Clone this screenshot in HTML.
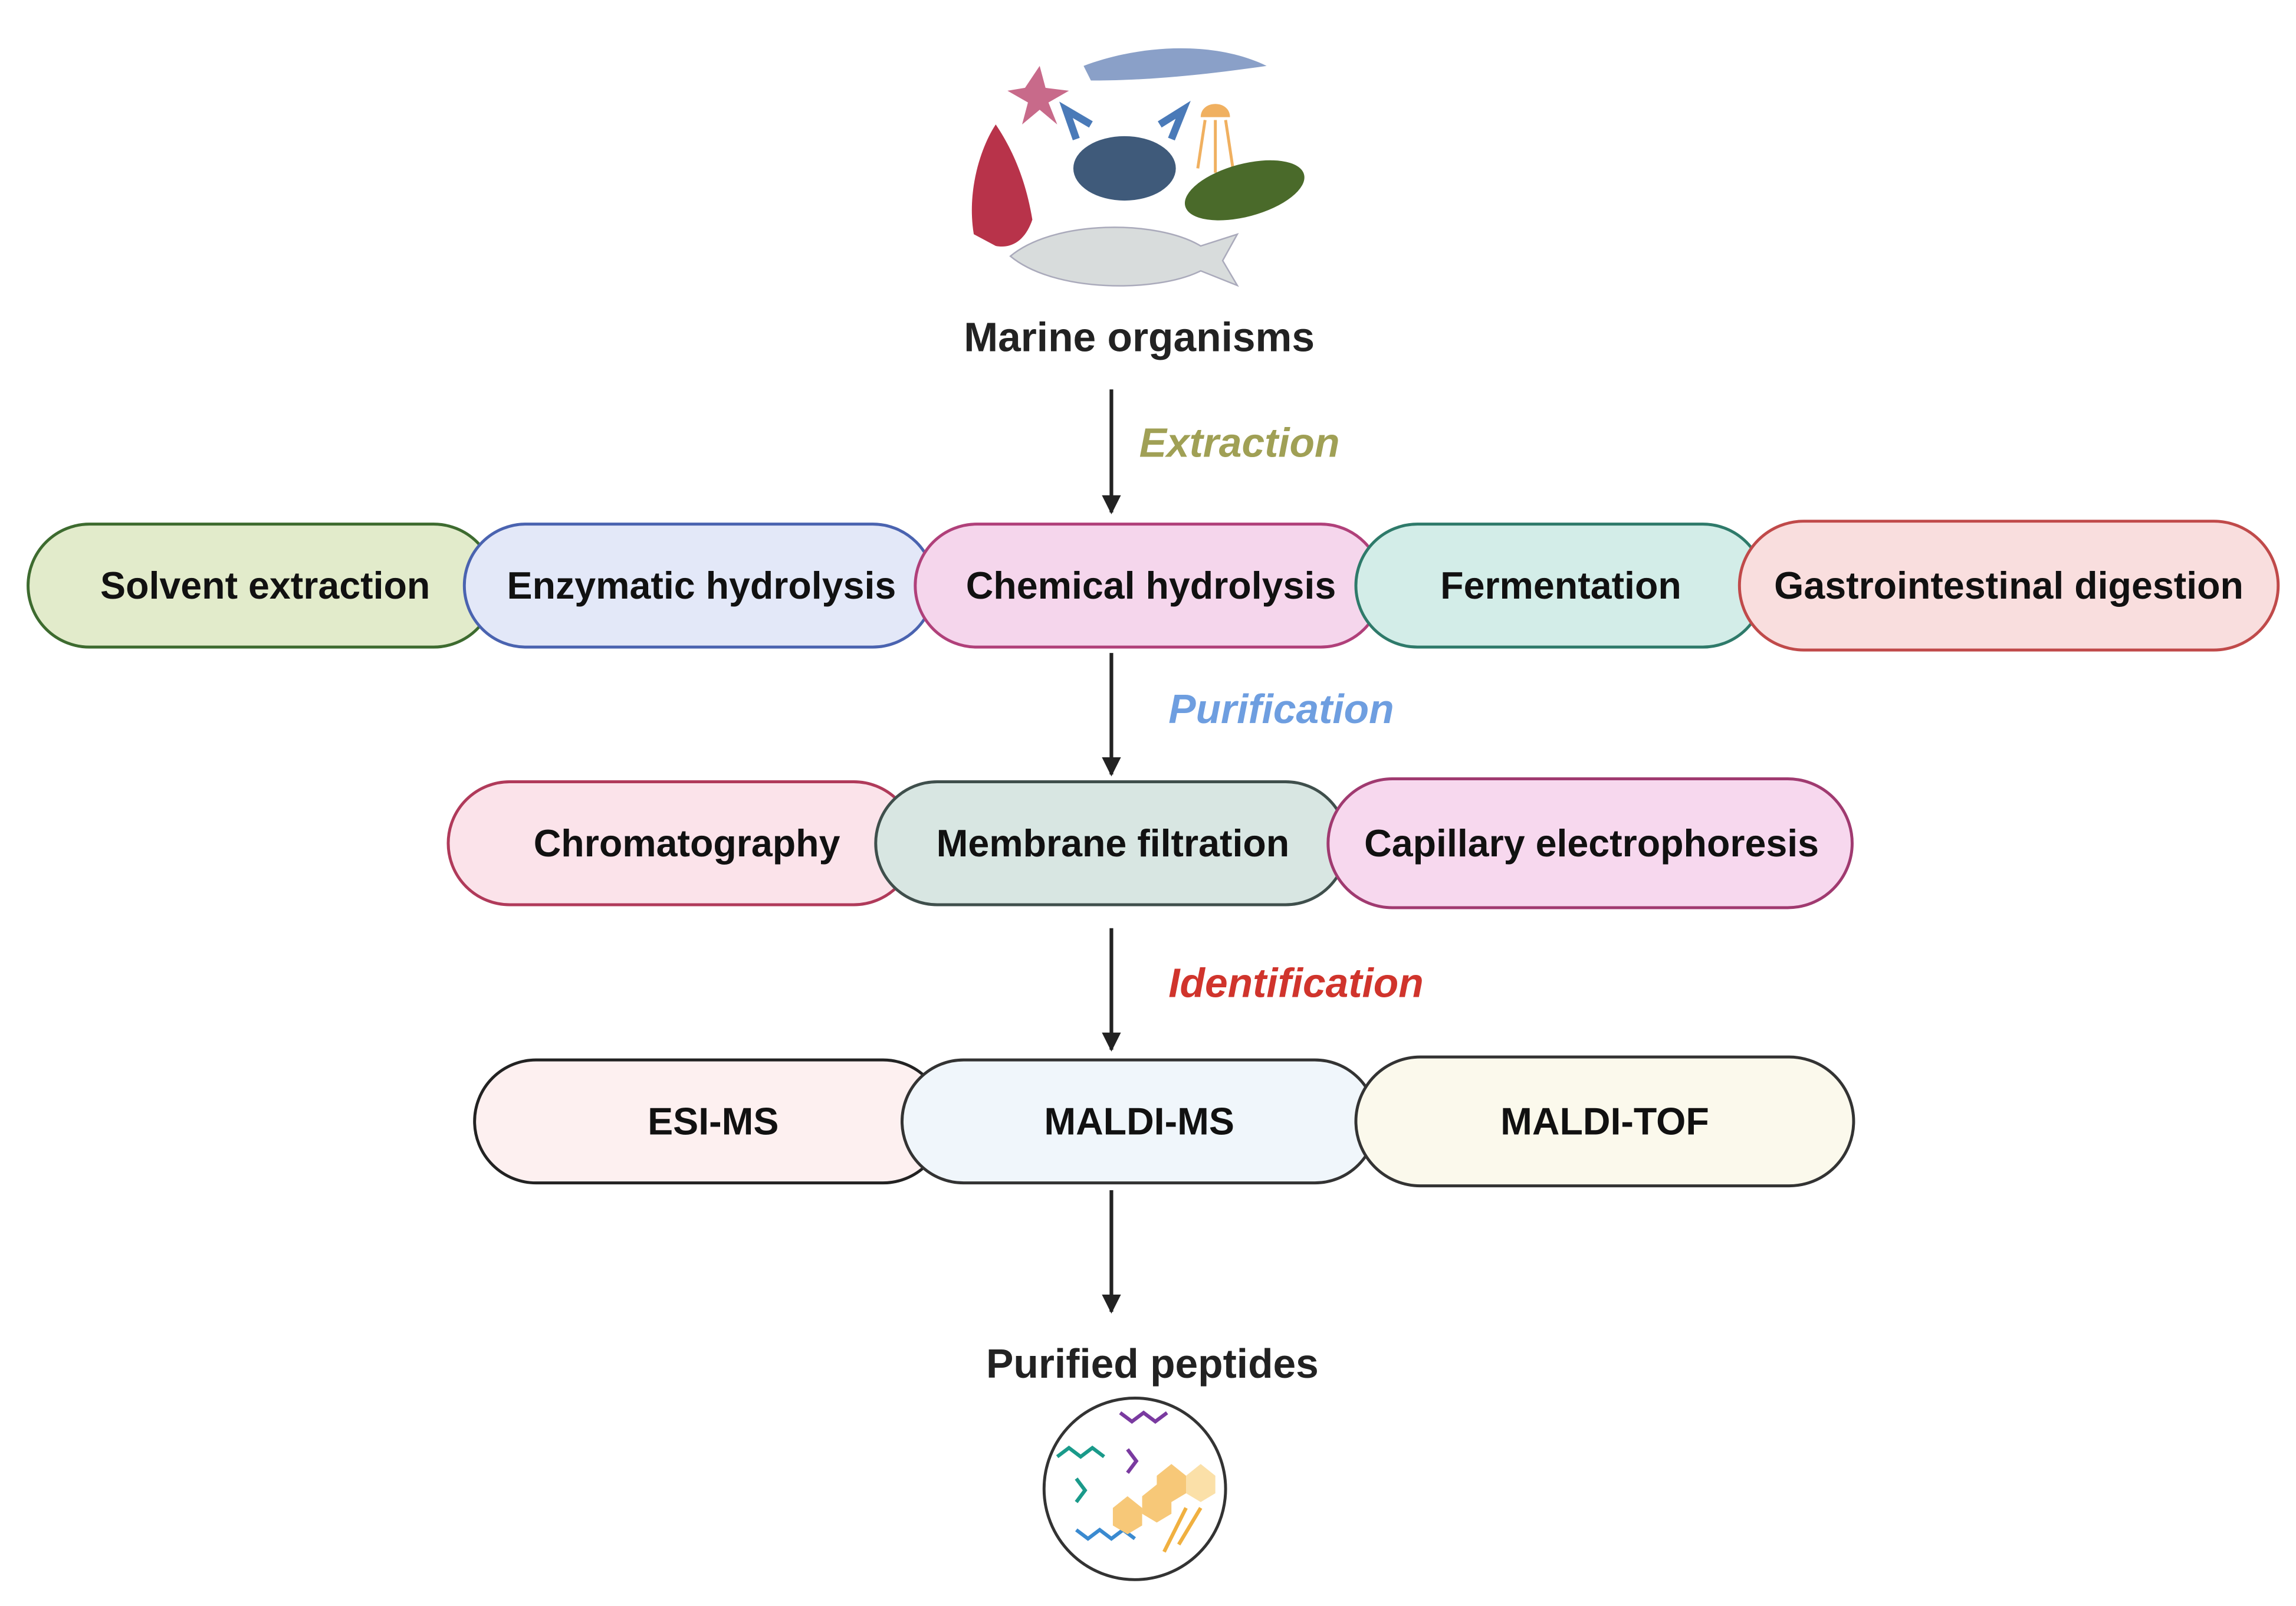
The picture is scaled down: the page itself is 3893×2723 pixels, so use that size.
<!DOCTYPE html>
<html><head><meta charset="utf-8"><style>
html,body{margin:0;padding:0;background:#fff}
svg{display:block}
text{font-family:"Liberation Sans",Arial,sans-serif;font-weight:bold}
</style></head><body>
<svg width="3893" height="2723" viewBox="0 0 1568 1097" xmlns="http://www.w3.org/2000/svg">
<defs>
<marker id="ah" viewBox="0 0 10 10" refX="9" refY="5" markerWidth="17" markerHeight="13" orient="auto" markerUnits="userSpaceOnUse">
<path d="M0,0 L10,5 L0,10 z" fill="#222"/></marker>
</defs>
<g>
<path d="M665,160 C660,130 670,100 680,85 C690,100 700,120 705,150 C700,165 690,170 680,168 Z" fill="#b8334a"/>
<path d="M700,60 L710,45 L714,60 L730,62 L716,70 L722,85 L710,75 L698,85 L702,70 L688,62 Z" fill="#c86a8a"/>
<path d="M740,45 C780,30 830,28 865,45 C830,50 790,55 745,55 Z" fill="#8aa0c8"/>
<ellipse cx="768" cy="115" rx="35" ry="22" fill="#3f5a7a"/>
<path d="M735,95 L728,75 L745,85 M800,95 L808,75 L792,85" stroke="#4a7ab8" stroke-width="5" fill="none"/>
<path d="M820,80 C820,68 840,68 840,80 Z" fill="#f0b060"/>
<path d="M823,82 L818,115 M830,82 L830,118 M837,82 L842,115" stroke="#f0b060" stroke-width="2"/>
<ellipse cx="850" cy="130" rx="42" ry="18" fill="#4a6a2a" transform="rotate(-15 850 130)"/>
<path d="M690,175 C720,150 790,150 820,168 L845,160 L835,178 L845,195 L820,185 C790,200 720,200 690,175 Z" fill="#d8dcdc" stroke="#aab" stroke-width="1"/>
</g>
<text x="778" y="240" font-size="28" text-anchor="middle" fill="#222">Marine organisms</text>
<g stroke="#222" stroke-width="2.5" marker-end="url(#ah)">
<line x1="759" y1="266" x2="759" y2="350"/>
<line x1="759" y1="446" x2="759" y2="529"/>
<line x1="759" y1="634" x2="759" y2="717"/>
<line x1="759" y1="813" x2="759" y2="896"/>
</g>
<g font-style="italic" font-size="28">
<text x="778" y="312" fill="#a0a055">Extraction</text>
<text x="798" y="494" fill="#6e9ee0">Purification</text>
<text x="798" y="681" fill="#d0342c">Identification</text>
</g>
<g stroke-width="2" font-size="26">
<rect x="19" y="358" width="319" height="84" rx="42" fill="#e2ebcb" stroke="#3d6b2f"/>
<rect x="317" y="358" width="321" height="84" rx="42" fill="#e3e8f8" stroke="#4a63b0"/>
<rect x="625" y="358" width="319" height="84" rx="42" fill="#f5d6ec" stroke="#b0407a"/>
<rect x="926" y="358" width="279" height="84" rx="42" fill="#d3ede8" stroke="#2e7a6a"/>
<rect x="1188" y="356" width="368" height="88" rx="44" fill="#f9dede" stroke="#c04a4a"/>
<rect x="306" y="534" width="319" height="84" rx="42" fill="#fbe3ea" stroke="#b03a5a"/>
<rect x="598" y="534" width="322" height="84" rx="42" fill="#d8e6e2" stroke="#3f4f4c"/>
<rect x="907" y="532" width="358" height="88" rx="44" fill="#f7d8ee" stroke="#a03a70"/>
<rect x="324" y="724" width="321" height="84" rx="42" fill="#fdf0f0" stroke="#222"/>
<rect x="616" y="724" width="324" height="84" rx="42" fill="#f0f6fb" stroke="#333"/>
<rect x="926" y="722" width="340" height="88" rx="44" fill="#fbf9ec" stroke="#333"/>
<g fill="#111" stroke="none" text-anchor="middle">
<text x="181" y="409">Solvent extraction</text>
<text x="479" y="409">Enzymatic hydrolysis</text>
<text x="786" y="409">Chemical hydrolysis</text>
<text x="1066" y="409">Fermentation</text>
<text x="1372" y="409">Gastrointestinal digestion</text>
<text x="469" y="585">Chromatography</text>
<text x="760" y="585">Membrane filtration</text>
<text x="1087" y="585">Capillary electrophoresis</text>
<text x="487" y="775">ESI-MS</text>
<text x="778" y="775">MALDI-MS</text>
<text x="1096" y="775">MALDI-TOF</text>
</g>
</g>
<text x="787" y="941" font-size="28" text-anchor="middle" fill="#222">Purified peptides</text>
<circle cx="775" cy="1017" r="62" fill="#fff" stroke="#333" stroke-width="2"/>
<g fill="none" stroke-width="2.5">
<path d="M722,995 l8,-6 l8,6 l8,-6 l8,6 M735,1010 l6,8 l-6,8" stroke="#1a9a8a"/>
<path d="M765,965 l8,6 l8,-6 l8,6 l8,-6 M770,990 l6,8 l-6,8" stroke="#7a3aa0"/>
<path d="M735,1045 l8,6 l8,-6 l8,6 l8,-6 l8,6" stroke="#3a8ad0"/>
<path d="M795,1060 l15,-30 M805,1055 l15,-25" stroke="#f0b040"/>
</g>
<g fill="#f7c878">
<polygon points="760,1030 770,1022 780,1030 780,1042 770,1048 760,1042"/>
<polygon points="780,1022 790,1014 800,1022 800,1034 790,1040 780,1034"/>
<polygon points="790,1008 800,1000 810,1008 810,1020 800,1026 790,1020"/>
<polygon points="810,1008 820,1000 830,1008 830,1020 820,1026 810,1020" fill="#fbe0a8"/>
</g>
</svg>
</body></html>
